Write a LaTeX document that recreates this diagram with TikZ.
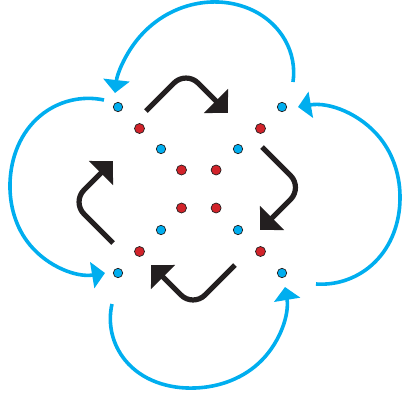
\documentclass[tikz,border=0pt]{standalone}
\usepackage{tikz}
\usetikzlibrary{arrows.meta, hobby}
\definecolor{cyanblue}{RGB}{0,174,239}
\definecolor{dotred}{RGB}{210,35,42}
\definecolor{arrowblack}{RGB}{35,31,32}
\tikzset{
    bluedot/.style={circle, fill=cyanblue, draw=arrowblack, line width=0.7pt, inner sep=0pt, minimum size=9.4pt},
    reddot/.style={circle, fill=dotred, draw=arrowblack, line width=0.7pt, inner sep=0pt, minimum size=10pt},
    loopline/.style={cyanblue, line width=3.6pt, -{Triangle[width=26pt,length=13pt]}},
    turnline/.style={arrowblack, line width=5.2pt, rounded corners=17pt, -{Triangle[width=33pt,length=17pt]}},
}

\begin{document}
\begin{tikzpicture}[x=1pt, y=-1pt]
    \useasboundingbox (0,0) rectangle (406,405);
    % dots, centre at (199.5,189.5)
    \foreach \sx/\sy/\k in {-1/-1/1, 1/-1/2, 1/1/3, -1/1/4}{
        \node[bluedot] (bo\k) at ({200+82*\sx},{190+83*\sy}) {};
        \node[reddot] (ro\k) at ({200+60.5*\sx},{190+61.5*\sy}) {};
        \node[bluedot] (bi\k) at ({199.5+38.5*\sx},{189.5+40.5*\sy}) {};
        \node[reddot] (ri\k) at ({198.8+17.3*\sx},{189+19*\sy}) {};
    }

    % inner turning arrows
    \coordinate (ts1) at (146,111);
    \coordinate (tc1) at (186,71);
    \coordinate (te1) at (228,113);
    \coordinate (ts2) at (262,147);
    \coordinate (tc2) at (302.5,187.5);
    \coordinate (te2) at (260,230);
    \coordinate (ts3) at (235,265);
    \coordinate (tc3) at (193,307);
    \coordinate (te3) at (151,265);
    \coordinate (ts4) at (113,243);
    \coordinate (tc4) at (72,202);
    \coordinate (te4) at (113,161);
    \foreach \k in {1,...,4}
        \draw[turnline] (ts\k) -- (tc\k) -- (te\k);

    % outer loops
    \coordinate (ls1) at (293,82);
    \coordinate (le1) at (115,93);
    \coordinate (ls2) at (104,100);
    \coordinate (le2) at (105,273);
    \coordinate (ls3) at (112,304);
    \coordinate (le3) at (285,287);
    \coordinate (ls4) at (316,284);
    \coordinate (le4) at (298,107);
    \draw[loopline] (ls1) to[curve through={(285,40) (195,4) (137,40)}] (le1);
    \draw[loopline] (ls2) to[curve through={(40,116) (10,183) (30,245)}] (le2);
    \draw[loopline] (ls3) to[curve through={(125,360) (195,388) (262,360)}] (le3);
    \draw[loopline] (ls4) to[curve through={(375,262) (400,199) (380,138)}] (le4);
\end{tikzpicture}
\end{document}
